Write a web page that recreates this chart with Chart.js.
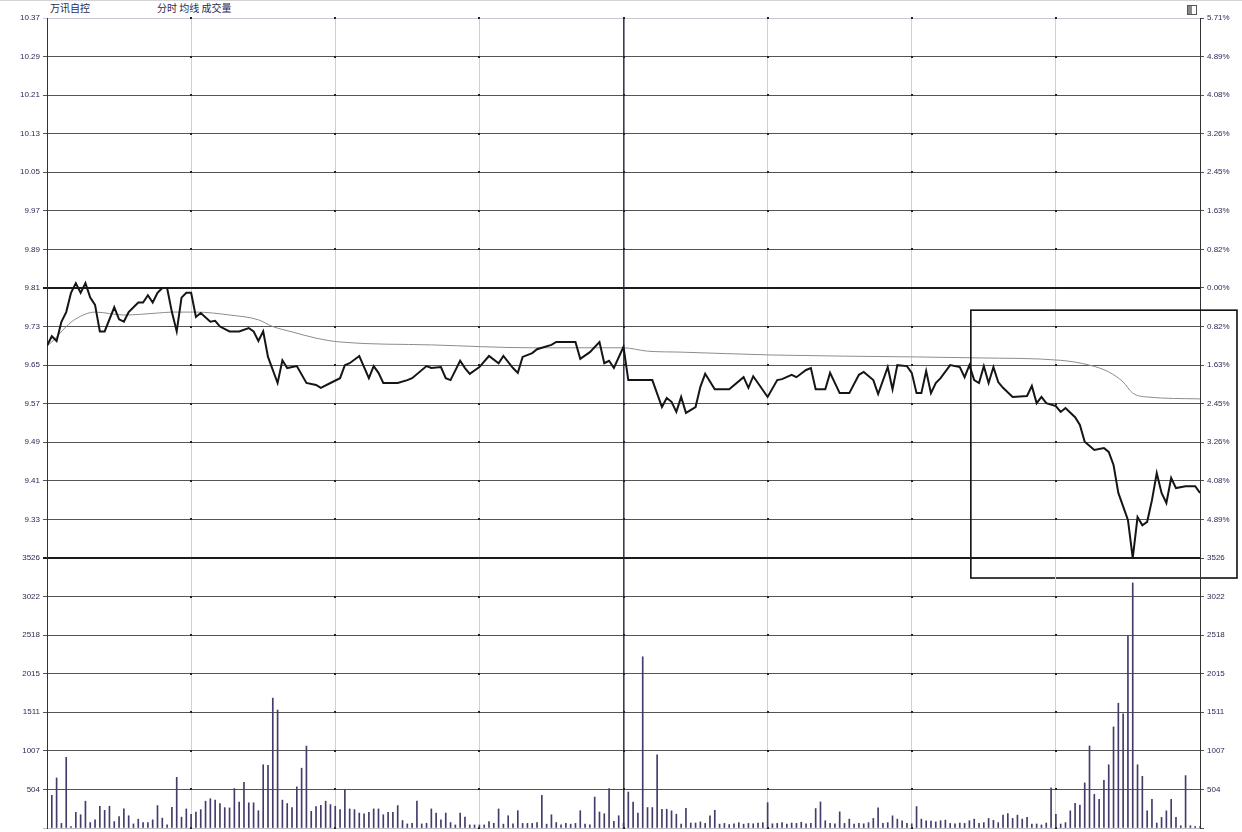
<!DOCTYPE html>
<html><head><meta charset="utf-8">
<script src="https://cdn.jsdelivr.net/npm/chart.js@4.4.1/dist/chart.umd.min.js"></script>
<style>
html,body{margin:0;padding:0;background:#fff;}
#wrap{position:relative;width:1242px;height:832px;overflow:hidden;background:#fff;}
#cA{position:absolute;left:0;top:0;}
#cB{position:absolute;left:0;top:540px;}
.hd{position:absolute;top:2px;font:10px "Noto Sans CJK SC",sans-serif;color:#2a2a55;white-space:nowrap;line-height:12px;}
#icon{position:absolute;left:1187px;top:5px;width:8px;height:8px;border:1px solid #555;}
#icon:after{content:"";position:absolute;left:0;top:0;width:4px;height:8px;background:#888;}
#topline{position:absolute;left:0;top:0;width:1242px;height:1px;background:#d4d4d4;}
</style></head>
<body><div id="wrap">
<div id="topline"></div>
<div class="hd" style="left:50px">万讯自控</div>
<div class="hd" style="left:157px">分时 均线 成交量</div>
<div id="icon"></div>
<canvas id="cA" width="1242" height="832"></canvas>
<canvas id="cB" width="1242" height="310"></canvas>
</div>
<script>
// ---- data ----
const timeGridMinutes = [0, 30, 60, 90, 120, 150, 180, 210, 240];

const priceMinutes = [0,1,2,3,4,5,6,7,8,9,10,11,12,14,15,16,17,19,20,21,22,23,24,25,26,27,28,29,30,31,32,34,35,36,38,40,42,43,44,45,46,48,49,50,52,54,56,57,59,61,62,63,65,66,67,68,69,70,73,75,76,79,80,82,83,84,86,87,88,90,92,94,95,97,98,99,101,102,103,105,106,110,111,113,115,116,117,118,120,121,126,128,129,130,131,132,133,135,136,137,139,142,145,146,147,150,152,153,155,156,158,159,160,162,163,165,167,169,170,172,173,175,176,177,179,180,181,182,183,184,185,186,188,190,191,192,193,194,195,196,197,198,199,201,204,205,206,207,208,210,211,212,214,215,216,218,220,221,222,223,225,226,227,228,229,230,231,232,233,234,235,237,239,240];
const priceValues = [9.69,9.71,9.70,9.74,9.76,9.80,9.82,9.80,9.82,9.79,9.775,9.72,9.72,9.77,9.745,9.74,9.76,9.78,9.78,9.795,9.78,9.80,9.81,9.81,9.76,9.72,9.79,9.80,9.80,9.75,9.758,9.74,9.742,9.73,9.72,9.72,9.727,9.72,9.70,9.72,9.667,9.613,9.66,9.644,9.648,9.613,9.609,9.603,9.613,9.623,9.65,9.654,9.669,9.646,9.623,9.648,9.634,9.613,9.613,9.619,9.623,9.648,9.644,9.646,9.623,9.619,9.659,9.644,9.632,9.646,9.669,9.654,9.669,9.644,9.634,9.667,9.675,9.683,9.686,9.692,9.698,9.698,9.663,9.677,9.698,9.654,9.659,9.644,9.688,9.619,9.619,9.563,9.582,9.574,9.553,9.584,9.551,9.563,9.605,9.632,9.60,9.60,9.625,9.603,9.627,9.584,9.619,9.621,9.63,9.625,9.64,9.644,9.60,9.60,9.634,9.592,9.592,9.63,9.636,9.619,9.59,9.646,9.60,9.65,9.648,9.634,9.592,9.592,9.638,9.592,9.613,9.623,9.65,9.646,9.625,9.65,9.619,9.613,9.648,9.613,9.646,9.615,9.603,9.584,9.586,9.607,9.571,9.584,9.571,9.565,9.553,9.561,9.542,9.526,9.491,9.474,9.478,9.47,9.443,9.385,9.329,9.25,9.335,9.318,9.325,9.37,9.426,9.385,9.364,9.416,9.395,9.399,9.399,9.385];

const avgMinutes = [0,1,4,6,10,16,23,26,31,38,44,47,51,56,61,80,101,120,125,132,151,181,194,211,217,221,224,226,229,240];
const avgValues  = [9.69,9.698,9.73,9.746,9.76,9.754,9.758,9.76,9.76,9.754,9.744,9.73,9.719,9.706,9.698,9.692,9.686,9.686,9.679,9.677,9.671,9.667,9.665,9.66,9.65,9.636,9.615,9.592,9.584,9.58];

const volumes = [
 20,426,653,60,923,20,204,173,350,71,
 107,284,231,284,84,150,249,160,53,115,
 71,71,107,293,129,40,271,662,142,249,
 178,209,240,350,382,364,320,266,262,515,
 337,595,329,329,226,826,817,1696,1541,364,
 320,266,537,781,1070,218,280,297,350,306,
 284,240,506,249,240,195,186,204,249,249,
 173,204,204,293,98,53,60,350,53,62,
 249,195,107,195,71,40,195,142,40,40,
 40,40,84,62,249,50,160,53,226,60,
 60,60,70,426,50,173,71,40,60,50,
 60,226,50,40,404,209,186,515,86,160,
 60,469,340,194,2236,267,267,955,245,245,
 224,180,52,258,65,65,80,60,159,232,
 50,60,45,55,70,50,60,55,65,70,
 331,55,60,70,50,65,60,75,55,60,
 254,340,95,60,55,211,60,116,50,60,
 55,70,125,262,60,70,159,116,95,60,
 55,280,116,95,90,80,95,103,60,55,
 65,60,95,116,60,70,125,100,70,168,
 189,125,168,116,138,50,52,40,65,525,
 180,52,70,224,322,300,589,1071,439,374,
 624,826,1320,1630,1492,2503,3200,826,675,224,
 374,65,138,224,374,138,30,684,30,20,
 20];

const priceTickValues = [9.25,9.33,9.41,9.49,9.57,9.65,9.73,9.81,9.89,9.97,10.05,10.13,10.21,10.29,10.37];
const priceTickLabels = ['','9.33','9.41','9.49','9.57','9.65','9.73','9.81','9.89','9.97','10.05','10.13','10.21','10.29','10.37'];
const pctTickLabels   = ['','4.89%','4.08%','3.26%','2.45%','1.63%','0.82%','0.00%','0.82%','1.63%','2.45%','3.26%','4.08%','4.89%','5.71%'];
const volTickValues = [0,504,1007,1511,2015,2518,3022,3526];
const volTickLabels = ['','504','1007','1511','2015','2518','3022','3526'];
const prevClose = 9.81;

// highlight box in data units (minutes / price)
const highlight = {fromMinute:192.3, toMinute:247.7, topPrice:9.764, bottomPrice:9.2085};

// ---- styling helpers ----
const labelFont = {family:'"Liberation Sans", Arial, sans-serif', size:8};
const labelColor = '#2a2a55';
const xGridColor = c => { const v=c.tick.value; if (v===120) return '#3a3a5a'; if (v===0||v===240) return '#333'; return '#cfd1dd'; };
const xGridWidth = c => (c.tick.value===120 ? 1.6 : 1);

const dotPlugin = {
  id:'dots',
  beforeDatasetsDraw(chart, args, opts){
    const ctx = chart.ctx, xs = chart.scales.x, ys = chart.scales[opts.yId];
    ctx.save(); ctx.fillStyle = '#222';
    for (const m of timeGridMinutes){
      if (m===0||m===240) continue;
      const px = Math.round(xs.getPixelForValue(m));
      for (const t of ys.ticks){
        const py = Math.round(ys.getPixelForValue(t.value));
        ctx.fillRect(px-1, py-1, 2, 2);
      }
    }
    ctx.restore();
  }
};

const boxPlugin = {
  id:'box',
  afterDraw(chart){
    const ctx = chart.ctx, xs = chart.scales.x, ys = chart.scales.y;
    const x1 = xs.getPixelForValue(highlight.fromMinute), x2 = xs.getPixelForValue(highlight.toMinute);
    const y1 = ys.getPixelForValue(highlight.topPrice), y2 = ys.getPixelForValue(highlight.bottomPrice);
    ctx.save(); ctx.strokeStyle = '#111'; ctx.lineWidth = 1.6;
    ctx.strokeRect(x1, y1, x2-x1, y2-y1);
    ctx.restore();
  }
};

function makeXAxis(){
  return {
    type:'linear', min:0, max:240, offset:false,
    afterBuildTicks: ax => { ax.ticks = timeGridMinutes.map(v=>({value:v})); },
    afterFit: ax => { ax.height = 0; },
    ticks:{display:false},
    grid:{drawTicks:false, offset:false, color:xGridColor, lineWidth:xGridWidth},
    border:{display:false}
  };
}

// ---- price chart ----
new Chart(document.getElementById('cA'), {
  type:'line',
  data:{datasets:[
    {label:'价格', xAxisID:'x', yAxisID:'y', data: priceMinutes.map((m,i)=>({x:m, y:priceValues[i]})), borderColor:'#151515', borderWidth:2, pointRadius:0, tension:0},
    {label:'均价', xAxisID:'x', yAxisID:'y', data: avgMinutes.map((m,i)=>({x:m, y:avgValues[i]})), borderColor:'#8c8c8c', borderWidth:1, pointRadius:0, cubicInterpolationMode:'monotone'}
  ]},
  options:{
    responsive:false, animation:false, devicePixelRatio:1,
    layout:{padding:{top:18, bottom:274, left:0, right:0}},
    plugins:{legend:{display:false}, tooltip:{enabled:false}, dots:{yId:'y'}},
    scales:{
      x: makeXAxis(),
      y:{position:'left', min:9.25, max:10.37,
        afterBuildTicks: ax => { ax.ticks = priceTickValues.map(v=>({value:v})); },
        afterFit: ax => { ax.width = 47; },
        ticks:{autoSkip:false, padding:3, font:labelFont, color:labelColor, callback:(v,i)=>priceTickLabels[i]},
        grid:{tickLength:4,
          color: c => { const v=c.tick.value; if (Math.abs(v-prevClose)<1e-6 || Math.abs(v-9.25)<1e-6) return '#1a1a1a'; if (Math.abs(v-10.37)<1e-6) return '#c8c8d2'; return '#555'; },
          lineWidth: c => { const v=c.tick.value; return (Math.abs(v-prevClose)<1e-6 || Math.abs(v-9.25)<1e-6) ? 2 : 1; }},
        border:{display:true, color:'#333', width:1}},
      yr:{position:'right', min:9.25, max:10.37,
        afterBuildTicks: ax => { ax.ticks = priceTickValues.map(v=>({value:v})); },
        afterFit: ax => { ax.width = 42; },
        ticks:{autoSkip:false, padding:3, font:labelFont, color:labelColor, callback:(v,i)=>pctTickLabels[i]},
        grid:{drawOnChartArea:false, tickLength:4, color:'#555'},
        border:{display:true, color:'#333', width:1}}
    }
  },
  plugins:[dotPlugin, boxPlugin]
});

// ---- volume chart ----
new Chart(document.getElementById('cB'), {
  type:'bar',
  data:{datasets:[
    {label:'成交量', xAxisID:'x', yAxisID:'yv', data: volumes.map((v,i)=>({x:i, y:v})), backgroundColor:'#463a6a', barThickness:1, grouped:false}
  ]},
  options:{
    responsive:false, animation:false, devicePixelRatio:1,
    layout:{padding:{top:18, bottom:22, left:0, right:0}},
    plugins:{legend:{display:false}, tooltip:{enabled:false}, dots:{yId:'yv'}},
    scales:{
      x: makeXAxis(),
      yv:{position:'left', min:0, max:3526,
        afterBuildTicks: ax => { ax.ticks = volTickValues.map(v=>({value:v})); },
        afterFit: ax => { ax.width = 47; },
        ticks:{autoSkip:false, padding:3, font:labelFont, color:labelColor, callback:(v,i)=>volTickLabels[i]},
        grid:{tickLength:4,
          color: c => { const v=c.tick.value; if (v===3526) return '#1a1a1a'; if (v===0) return '#bdbdc8'; return '#555'; },
          lineWidth: c => (c.tick.value===3526 ? 2 : 1)},
        border:{display:true, color:'#333', width:1}},
      yvr:{position:'right', min:0, max:3526,
        afterBuildTicks: ax => { ax.ticks = volTickValues.map(v=>({value:v})); },
        afterFit: ax => { ax.width = 42; },
        ticks:{autoSkip:false, padding:3, font:labelFont, color:labelColor, callback:(v,i)=>volTickLabels[i]},
        grid:{drawOnChartArea:false, tickLength:4, color:'#555'},
        border:{display:true, color:'#333', width:1}}
    }
  },
  plugins:[dotPlugin]
});
</script>
</body></html>
